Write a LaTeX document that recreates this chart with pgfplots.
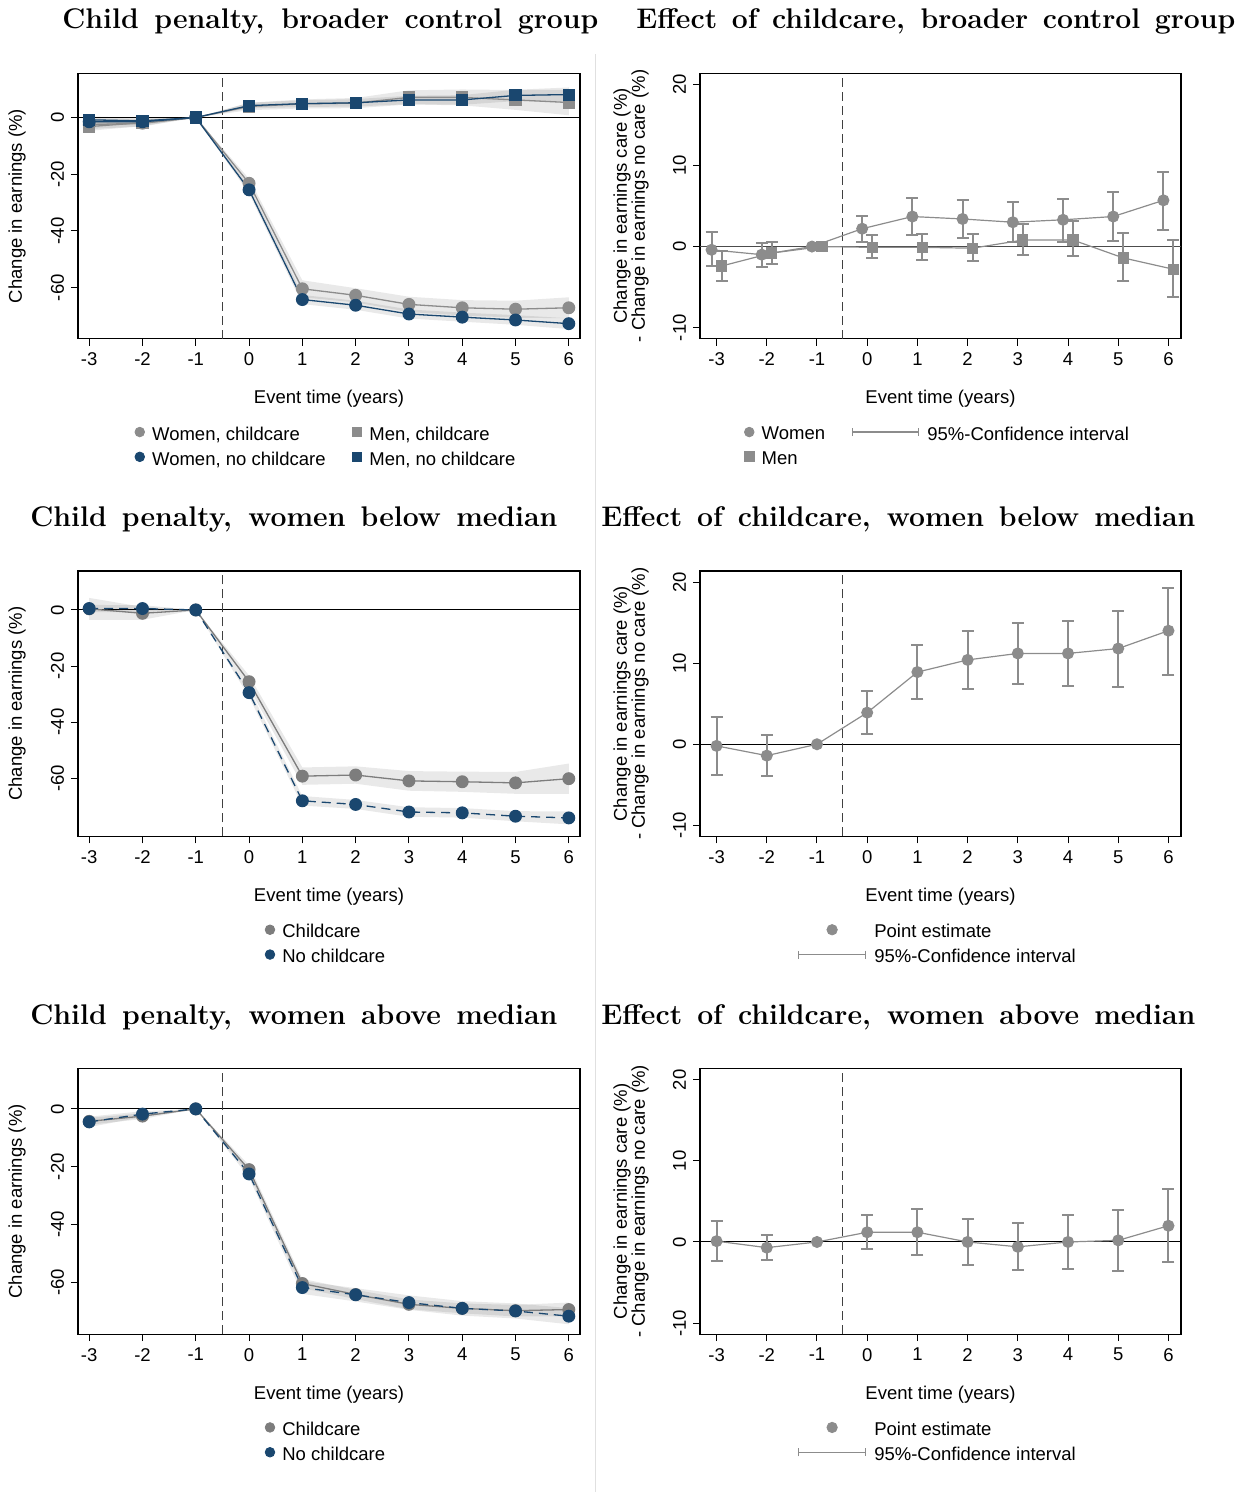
\documentclass[border=0pt]{standalone}
\usepackage{fontspec}
\usepackage{pgfplots}
\pgfplotsset{compat=1.18}
\usepackage{pgfplotstable}
\usetikzlibrary{arrows.meta}
\newfontfamily\arial{Liberation Sans}
\newcommand\af{\arial\fontsize{9.25pt}{10pt}\selectfont}
\newcommand\afy{\arial\fontsize{9.25pt}{9pt}\selectfont}
\definecolor{cgray}{RGB}{140,140,140}
\definecolor{dgray}{RGB}{125,125,125}
\definecolor{navy}{RGB}{26,71,111}

% ---------- data ----------
\pgfplotstableread{
t wc wn mc mn
-3 -2.5 -1.5 -3.2 -0.8
-2 -2.0 -1.5 -1.8 -1.2
-1 0 0 0 0
0 -23.2 -25.5 3.9 4.2
1 -60.4 -64.2 4.8 4.9
2 -62.7 -66.2 5.1 5.2
3 -65.9 -69.3 7.1 6.2
4 -67.1 -70.4 7.1 6.2
5 -67.6 -71.4 6.2 7.8
6 -67.1 -72.7 5.3 8.1
}\tabA

\pgfplotstableread{
t c n
-3 0.4 0.5
-2 -1.2 0.5
-1 0 0
0 -25.6 -29.5
1 -59.3 -68.1
2 -58.9 -69.4
3 -61.0 -72.1
4 -61.3 -72.4
5 -61.7 -73.6
6 -60.2 -74.2
}\tabC

\pgfplotstableread{
t c n
-3 -4.3 -4.5
-2 -2.5 -1.8
-1 0 0
0 -21.0 -22.5
1 -60.4 -61.8
2 -64.2 -64.3
3 -67.6 -67.0
4 -69.0 -69.0
5 -69.8 -69.9
6 -69.4 -71.7
}\tabE

\pgfplotstableread{
x y lo hi
-3.1 -0.4 -2.4 1.8
-2.1 -1.0 -2.5 0.4
-1.1 0 0 0
-0.1 2.2 0.6 3.8
0.9 3.7 1.4 6.0
1.9 3.4 1.1 5.8
2.9 3.0 0.6 5.5
3.9 3.3 0.6 5.9
4.9 3.7 0.7 6.7
5.9 5.7 2.1 9.2
}\tabBw

\pgfplotstableread{
x y lo hi
-2.9 -2.4 -4.3 -0.5
-1.9 -0.8 -2.2 0.6
-0.9 0 0 0
0.1 -0.1 -1.4 1.4
1.1 -0.1 -1.6 1.6
2.1 -0.2 -1.8 1.6
3.1 0.8 -1.0 2.8
4.1 0.8 -1.2 3.1
5.1 -1.4 -4.3 1.7
6.1 -2.8 -6.2 0.8
}\tabBm

\pgfplotstableread{
x y lo hi
-3 -0.2 -3.8 3.4
-2 -1.4 -3.9 1.2
-1 0 0 0
0 3.9 1.3 6.6
1 8.9 5.6 12.2
2 10.4 6.8 14.0
3 11.2 7.4 15.0
4 11.2 7.2 15.2
5 11.8 7.1 16.4
6 14.0 8.6 19.3
}\tabD

\pgfplotstableread{
x y lo hi
-3 0.1 -2.3 2.6
-2 -0.7 -2.2 0.9
-1 0 0 0
0 1.2 -0.9 3.3
1 1.2 -1.6 4.1
2 0.0 -2.8 2.8
3 -0.6 -3.5 2.4
4 0.0 -3.3 3.3
5 0.2 -3.6 4.0
6 2.0 -2.5 6.5
}\tabF

% ---------- styles ----------
\pgfplotsset{
 band/.style={forget plot, fill=black, fill opacity=0.085, draw=none},
 vref/.style={forget plot, black!75, line width=0.5pt, dash pattern=on 4.5pt off 2.5pt},
 zref/.style={forget plot, black, line width=0.5pt},
 mkleg/.style={legend image code/.code={\path[draw=none,fill=none] (0pt,1.5pt) -- ({2*#1},1.5pt); \draw[##1, only marks] plot coordinates {(#1,1.5pt)};}},
 ciimg/.style={legend image code/.code={\draw[cgray, line width=0.55pt, {Bar[width=4pt]}-{Bar[width=4pt]}] (0pt,1.5pt) -- (#1,1.5pt);}},
 base/.style={
  scale only axis, height=132.7pt,
  axis line style={black, line width=0.55pt},
  tick style={black, line width=0.5pt},
  tick align=outside, major tick length=3.5pt,
  xtick pos=bottom, ytick pos=left,
  xtick={-3,...,6},
  ticklabel style={font=\af},
  /pgf/number format/assume math mode=true,
  label style={font=\af},
  yticklabel style={rotate=90, anchor=south},
  xlabel={Event time (years)},
  x label style={at={(axis description cs:0.5,-0.227)}, anchor=center},
  legend style={font=\af, draw=none, fill=none, anchor=north, at={(0.5,-0.311)},
    nodes={inner xsep=3.8pt, inner ysep=0.6pt},
    row sep=3pt,
    /tikz/every even column/.append style={column sep=9.5pt}},
  legend cell align=left,
 },
 leftax/.style={base, width=251pt, xmin=-3.21, xmax=6.21, ytick={-60,-40,-20,0},
   ylabel={Change in earnings (\%)},
   y label style={at={(axis description cs:-0.1215,0.5)}, anchor=center}},
 rightax/.style={base, width=240.5pt, xmin=-3.33, xmax=6.25, ymin=-11.36, ymax=21.36,
   ytick={-10,0,10,20},
   ylabel={Change in earnings care (\%)\\- Change in earnings no care (\%)},
   y label style={at={(axis description cs:-0.1435,0.5)}, anchor=center, align=center, font=\afy}},
}

\newcommand\ciplot[1]{%
 \addplot[forget plot, only marks, mark=none, skip coords between index={2}{3},
   error bars/.cd, y dir=both, y explicit,
   error bar style={cgray, line width=1pt},
   error mark options={rotate=90, cgray, line width=1pt, mark size=3pt}]
  table[x=x, y=y, y error plus expr=\thisrow{hi}-\thisrow{y}, y error minus expr=\thisrow{y}-\thisrow{lo}]{#1};}

\newcommand\ttl[4]{\node[anchor=base west, inner sep=0pt, font=\bfseries\fontsize{14.2pt}{16pt}\selectfont] at (#1,#2) {\makebox[#3][s]{#4}};}

\begin{document}
\begin{tikzpicture}
\useasboundingbox (0,0) rectangle (626pt,-746pt);
\draw[black!12, line width=0.5pt] (297.5pt,-27pt) -- (297.5pt,-746pt);

\ttl{31pt}{-14.5pt}{268pt}{Child penalty, broader control group}
\ttl{318pt}{-14.5pt}{299.5pt}{Effect of childcare, broader control group}
\ttl{15pt}{-263.35pt}{263.5pt}{Child penalty, women below median}
\ttl{300.5pt}{-263.35pt}{297pt}{Effect of childcare, women below median}
\ttl{15pt}{-512.2pt}{263.5pt}{Child penalty, women above median}
\ttl{300.5pt}{-512.2pt}{297pt}{Effect of childcare, women above median}

% ===== Panel A =====
\begin{axis}[leftax, at={(39pt,-36.65pt)}, anchor=north west, ymin=-78, ymax=15.6, legend columns=2]
\addplot[band] coordinates {(-3,-1.0)(-2,-0.8)(-1,0)(0,-21.6)(1,-57.4)(2,-60.2)(3,-63.2)(4,-64.4)(5,-64.6)(6,-63.4)
 (6,-70.8)(5,-70.6)(4,-69.8)(3,-68.6)(2,-65.2)(1,-63.4)(0,-24.8)(-1,0)(-2,-3.2)(-3,-4.0)} -- cycle;
\addplot[band] coordinates {(-3,-0.3)(-2,-0.5)(-1,0)(0,-24.2)(1,-62.6)(2,-64.6)(3,-67.7)(4,-68.8)(5,-69.7)(6,-70.8)
 (6,-74.6)(5,-73.1)(4,-72.0)(3,-70.9)(2,-67.8)(1,-65.8)(0,-26.8)(-1,0)(-2,-2.5)(-3,-2.7)} -- cycle;
\addplot[band] coordinates {(-3,-1.7)(-2,-0.6)(-1,0)(0,5.2)(1,6.4)(2,6.9)(3,9.6)(4,9.9)(5,9.7)(6,9.8)
 (6,0.8)(5,2.7)(4,4.3)(3,4.6)(2,3.3)(1,3.2)(0,2.6)(-1,0)(-2,-3.0)(-3,-4.7)} -- cycle;
\addplot[band] coordinates {(-3,0.4)(-2,-0.2)(-1,0)(0,5.2)(1,6.1)(2,6.5)(3,7.7)(4,7.9)(5,9.8)(6,10.6)
 (6,5.6)(5,5.8)(4,4.5)(3,4.7)(2,3.9)(1,3.7)(0,3.2)(-1,0)(-2,-2.2)(-3,-2.0)} -- cycle;
\addplot[zref] coordinates {(-3.21,0)(6.21,0)};
\addplot[vref] coordinates {(-0.5,-78)(-0.5,15.6)};
\addplot[forget plot, cgray, line width=0.65pt, mark=*, mark size=2.9pt] table[x=t,y=wc]{\tabA};
\addplot[forget plot, cgray, line width=0.65pt, mark=square*, mark size=2.7pt] table[x=t,y=mc]{\tabA};
\addplot[forget plot, navy, line width=0.65pt, mark=*, mark size=2.9pt] table[x=t,y=wn]{\tabA};
\addplot[forget plot, navy, line width=0.65pt, mark=square*, mark size=2.7pt] table[x=t,y=mn]{\tabA};
\addlegendimage{cgray, mark=*, mark size=2.4pt, mkleg=2.4pt}
\addlegendentry{Women, childcare}
\addlegendimage{cgray, mark=square*, mark size=2.4pt, mkleg=2.4pt}
\addlegendentry{Men, childcare}
\addlegendimage{navy, mark=*, mark size=2.4pt, mkleg=2.4pt}
\addlegendentry{Women, no childcare}
\addlegendimage{navy, mark=square*, mark size=2.4pt, mkleg=2.4pt}
\addlegendentry{Men, no childcare}
\end{axis}

% ===== Panel B =====
\begin{axis}[rightax, at={(350pt,-36.65pt)}, anchor=north west, legend columns=2]
\addplot[zref, black!70] coordinates {(-3.33,0)(6.25,0)};
\addplot[vref] coordinates {(-0.5,-11.36)(-0.5,21.36)};
\ciplot{\tabBw}
\ciplot{\tabBm}
\addplot[forget plot, cgray, line width=0.6pt, mark=*, mark size=2.7pt] table[x=x,y=y]{\tabBw};
\addplot[forget plot, cgray, line width=0.6pt, mark=square*, mark size=2.5pt] table[x=x,y=y]{\tabBm};
\addlegendimage{cgray, mark=*, mark size=2.4pt, mkleg=2.4pt}
\addlegendentry{Women}
\addlegendimage{ciimg=33.5pt}
\addlegendentry{95\%-Confidence interval}
\addlegendimage{cgray, mark=square*, mark size=2.4pt, mkleg=2.4pt}
\addlegendentry{Men}
\end{axis}

% ===== Panel C =====
\begin{axis}[leftax, at={(39pt,-285.5pt)}, anchor=north west, ymin=-80.8, ymax=13.9, legend columns=1]
\addplot[band] coordinates {(-3,4.3)(-2,1.1)(-1,0)(0,-23.4)(1,-56.2)(2,-55.8)(3,-57.5)(4,-57.7)(5,-57.8)(6,-54.8)
 (6,-65.6)(5,-65.6)(4,-64.9)(3,-64.5)(2,-62.0)(1,-62.4)(0,-27.8)(-1,0)(-2,-3.5)(-3,-3.5)} -- cycle;
\addplot[band] coordinates {(-3,1.8)(-2,1.7)(-1,0)(0,-28.0)(1,-66.4)(2,-67.8)(3,-70.4)(4,-70.7)(5,-71.8)(6,-71.9)
 (6,-76.5)(5,-75.4)(4,-74.1)(3,-73.8)(2,-71.0)(1,-69.8)(0,-31.0)(-1,0)(-2,-0.7)(-3,-0.8)} -- cycle;
\addplot[zref] coordinates {(-3.21,0)(6.21,0)};
\addplot[vref] coordinates {(-0.5,-80.8)(-0.5,13.9)};
\addplot[forget plot, dgray, line width=0.65pt, mark=*, mark size=2.9pt] table[x=t,y=c]{\tabC};
\addplot[forget plot, navy, line width=0.65pt, dash pattern=on 4.5pt off 3pt, mark=*, mark size=2.9pt, mark options={solid}] table[x=t,y=n]{\tabC};
\addlegendimage{dgray, mark=*, mark size=2.4pt, mkleg=2.4pt}
\addlegendentry{Childcare}
\addlegendimage{navy, mark=*, mark size=2.4pt, mkleg=2.4pt}
\addlegendentry{No childcare}
\end{axis}

% ===== Panel D =====
\begin{axis}[rightax, at={(350pt,-285.5pt)}, anchor=north west, legend columns=1]
\addplot[zref] coordinates {(-3.33,0)(6.25,0)};
\addplot[vref] coordinates {(-0.5,-11.36)(-0.5,21.36)};
\ciplot{\tabD}
\addplot[forget plot, cgray, line width=0.6pt, mark=*, mark size=2.7pt] table[x=x,y=y]{\tabD};
\addlegendimage{cgray, mark=*, mark size=2.6pt, mkleg=17pt}
\addlegendentry{Point estimate}
\addlegendimage{ciimg=34pt}
\addlegendentry{95\%-Confidence interval}
\end{axis}

% ===== Panel E =====
\begin{axis}[leftax, at={(39pt,-534.35pt)}, anchor=north west, ymin=-77.9, ymax=13.9, legend columns=1]
\addplot[band] coordinates {(-3,-3.1)(-2,-1.5)(-1,0)(0,-19.5)(1,-58.8)(2,-62.6)(3,-65.9)(4,-67.3)(5,-67.8)(6,-67.0)
 (6,-71.8)(5,-71.8)(4,-70.7)(3,-69.3)(2,-65.8)(1,-62.0)(0,-22.5)(-1,0)(-2,-3.5)(-3,-5.5)} -- cycle;
\addplot[band] coordinates {(-3,-2.7)(-2,-0.8)(-1,0)(0,-21.2)(1,-59.6)(2,-62.0)(3,-64.5)(4,-66.5)(5,-67.3)(6,-68.9)
 (6,-74.5)(5,-72.5)(4,-71.5)(3,-69.5)(2,-66.6)(1,-64.0)(0,-23.8)(-1,0)(-2,-2.8)(-3,-6.3)} -- cycle;
\addplot[zref] coordinates {(-3.21,0)(6.21,0)};
\addplot[vref] coordinates {(-0.5,-77.9)(-0.5,13.9)};
\addplot[forget plot, dgray, line width=0.65pt, mark=*, mark size=2.9pt] table[x=t,y=c]{\tabE};
\addplot[forget plot, navy, line width=0.65pt, dash pattern=on 4.5pt off 3pt, mark=*, mark size=2.9pt, mark options={solid}] table[x=t,y=n]{\tabE};
\addlegendimage{dgray, mark=*, mark size=2.4pt, mkleg=2.4pt}
\addlegendentry{Childcare}
\addlegendimage{navy, mark=*, mark size=2.4pt, mkleg=2.4pt}
\addlegendentry{No childcare}
\end{axis}

% ===== Panel F =====
\begin{axis}[rightax, at={(350pt,-534.35pt)}, anchor=north west, legend columns=1]
\addplot[zref] coordinates {(-3.33,0)(6.25,0)};
\addplot[vref] coordinates {(-0.5,-11.36)(-0.5,21.36)};
\ciplot{\tabF}
\addplot[forget plot, cgray, line width=0.6pt, mark=*, mark size=2.7pt] table[x=x,y=y]{\tabF};
\addlegendimage{cgray, mark=*, mark size=2.6pt, mkleg=17pt}
\addlegendentry{Point estimate}
\addlegendimage{ciimg=34pt}
\addlegendentry{95\%-Confidence interval}
\end{axis}
\end{tikzpicture}
\end{document}
